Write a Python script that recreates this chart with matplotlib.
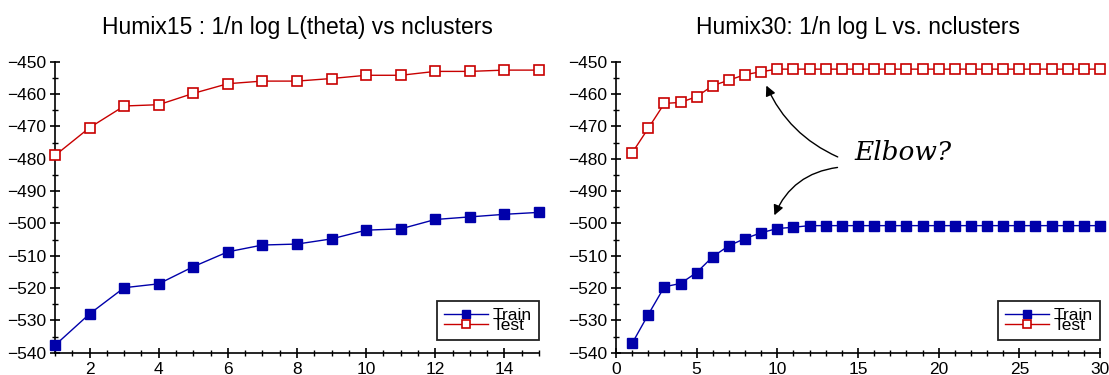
import numpy as np
import matplotlib
matplotlib.use("Agg")
import matplotlib.pyplot as plt
from matplotlib.ticker import MultipleLocator

plt.rcParams['font.family'] = ['Liberation Sans', 'DejaVu Sans']

# Humix15, nclusters 1..15
k15 = list(range(1, 16))
train15 = [-537.7, -528.0, -519.9, -518.7, -513.4, -508.8, -506.7, -506.4,
           -504.8, -502.1, -501.7, -498.8, -498.0, -497.2, -496.6]
test15 = [-479.0, -470.4, -463.7, -463.3, -459.8, -456.8, -456.0, -456.0,
          -455.2, -454.2, -454.2, -453.0, -453.0, -452.6, -452.6]

# Humix30, nclusters 1..30
k30 = list(range(1, 31))
train30 = [-537.1, -528.2, -519.6, -518.6, -515.2, -510.3, -506.9, -504.7,
           -502.9, -501.6, -501.2] + [-500.7] * 19
test30 = [-478.2, -470.6, -462.9, -462.6, -460.8, -457.4, -455.7, -454.0,
          -453.1] + [-452.3] * 21

title15 = "Humix15 : 1/n log L(theta) vs nclusters"
title30 = "Humix30: 1/n log L vs. nclusters"

blue = '#0000aa'
red = '#c80000'

fig = plt.figure(figsize=(11.09, 3.75), dpi=100)
ax1 = fig.add_axes([55/1109, 1-352.7/375, 484/1109, 291/375])
ax2 = fig.add_axes([616/1109, 1-352.7/375, 484/1109, 291/375])

def style(ax, xmaj, xmin):
    ax.spines['top'].set_visible(False)
    ax.spines['right'].set_visible(False)
    ax.spines['left'].set_linewidth(1.2)
    ax.spines['bottom'].set_linewidth(1.2)
    ax.set_ylim(-540, -450)
    ax.yaxis.set_major_locator(MultipleLocator(10))
    ax.yaxis.set_minor_locator(MultipleLocator(5))
    ax.xaxis.set_major_locator(MultipleLocator(xmaj))
    ax.xaxis.set_minor_locator(MultipleLocator(xmin))
    ax.tick_params(which='major', direction='inout', length=7, width=1.2,
                   labelsize=12.5, pad=3)
    ax.tick_params(which='minor', direction='inout', length=4, width=1.0)

def draw(ax, k, tr, te, ms):
    ax.plot(k, tr, color=blue, lw=1, marker='s', ms=ms, mfc=blue, mec=blue,
            label='Train', clip_on=False, zorder=3)
    ax.plot(k, te, color=red, lw=1, marker='s', ms=ms, mfc='white', mec=red,
            mew=1.2, label='Test', clip_on=False, zorder=3)
    leg = ax.legend(loc='lower right', bbox_to_anchor=(1.0, 0.045),
                    borderaxespad=0, fontsize=12.5, labelspacing=-0.3,
                    handlelength=2.5, handletextpad=0.3, borderpad=0.4,
                    fancybox=False, framealpha=1, edgecolor='#222222',
                    markerscale=0.8)
    leg.get_frame().set_linewidth(1.3)

style(ax1, 2, 0.5)
ax1.set_xlim(1, 15)
draw(ax1, k15, train15, test15, 7.3)
ax1.set_title(title15, fontsize=16.5, pad=20)

style(ax2, 5, 1)
ax2.set_xlim(0, 30)
draw(ax2, k30, train30, test30, 6.6)
ax2.set_title(title30, fontsize=16.5, pad=20)

# elbow annotation
ax2.text(14.8, -480.4, "Elbow?", family='DejaVu Serif', style='italic',
         fontsize=19, ha='left', va='baseline')
ax2.annotate("", xy=(9.25, -456.6), xytext=(13.9, -479.8),
             arrowprops=dict(arrowstyle='-|>', color='black', lw=1,
                             mutation_scale=15,
                             connectionstyle='arc3,rad=-0.2'))
ax2.annotate("", xy=(9.75, -498.3), xytext=(13.9, -482.6),
             arrowprops=dict(arrowstyle='-|>', color='black', lw=1,
                             mutation_scale=15,
                             connectionstyle='arc3,rad=0.3'))

fig.savefig('out.png', dpi=100)
